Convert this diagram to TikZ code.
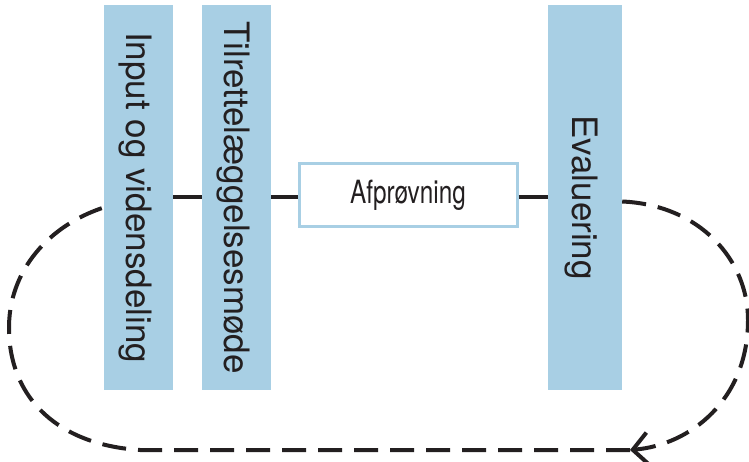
\documentclass[tikz,border=0pt]{standalone}
\usepackage{fontspec}
\setmainfont{TeX Gyre Heros}
\usetikzlibrary{positioning}
\usetikzlibrary{arrows.meta}
\definecolor{barblue}{RGB}{168,207,228}
\definecolor{inkdark}{RGB}{35,31,32}
\tikzset{
  bar/.style={rectangle, fill=barblue, rotate=-90, inner sep=0pt, minimum width=385pt, minimum height=69pt, text=inkdark, font=\fontsize{35}{40}\selectfont, text height=25pt, text depth=0pt},
  testbox/.style={rectangle, draw=barblue, line width=3pt, fill=white, inner sep=0pt, minimum width=218pt, minimum height=63pt, text=inkdark, font=\fontsize{32}{36}\selectfont},
  link/.style={inkdark, line width=4pt},
  loop/.style={inkdark, line width=4pt, dash pattern=on 24pt off 12pt}
}
\begin{document}
\begin{tikzpicture}[x=1pt,y=-1pt]
\useasboundingbox (0,0) rectangle (749,462);

\node[bar] (inp) at (138.5,197.5) {Input og vidensdeling};
\node[bar] (til) at (236.5,197.5) {Tilrettelæggelsesmøde};
\node[bar, minimum height=74pt] (eval) at (585,197.5) {Evaluering};
\node[testbox] (afp) at (408,195) {\scalebox{0.76}[1]{Afprøvning}\hspace{30pt}};

\draw[link] (inp.north) -- (til.south);
\draw[link] (til.north) -- (afp.west |- til.north);
\draw[link] (afp.east |- eval.south) -- (eval.south);

\coordinate (tip) at (630,450);
\draw[loop, -{Straight Barb[length=15pt,width=32pt]}] ([yshift=-4pt]eval.north) .. controls (700,205) and (748,260) .. (748,320) .. controls (748,400) and (690,445) .. (tip);
\draw[loop] (tip) -- (140,450) .. controls (60,445) and (10,400) .. (9,330) .. controls (8,270) and (50,225) .. ([yshift=-10pt]inp.south);

\end{tikzpicture}
\end{document}
